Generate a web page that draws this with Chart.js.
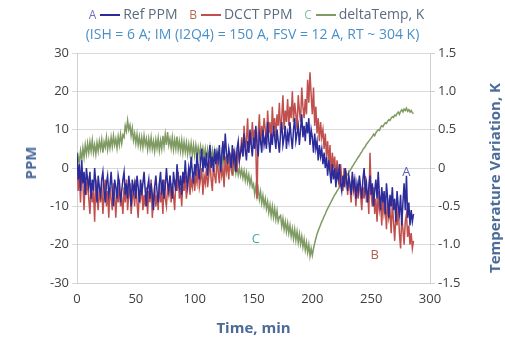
<!DOCTYPE html>
<html>
<head>
<meta charset="utf-8">
<script src="https://cdn.jsdelivr.net/npm/chart.js@4"></script>
<style>
  body { margin: 0; background: #fff; }
  #wrap { position: relative; width: 505px; height: 342px; font-family: "Open Sans", sans-serif; }
  #legend { position: absolute; left: 0; top: 4px; width: 505px; text-align: center; font-size: 14px; color: #5c6b80; white-space: nowrap; }
  #legend .sw { display: inline-block; width: 20px; height: 2px; vertical-align: middle; margin: 0 3px 0 4px; }
  #legend .k { font-size: 12px; margin-left: 8px; }
  #sub { position: absolute; left: 0; top: 24px; width: 505px; text-align: center; font-size: 14px; color: #4a90c8; white-space: nowrap; }
  .ytitle { position: absolute; font-size: 15px; font-weight: bold; color: #4a6a98; white-space: nowrap; transform: translate(-50%, -50%) rotate(-90deg); }
</style>
</head>
<body>
<div id="wrap">
  <canvas id="myChart" width="505" height="342"></canvas>
  <div id="legend">
    <span class="k" style="color:#6f6fc0">A</span><span class="sw" style="background:#2b2b9b"></span>Ref PPM
    <span class="k" style="color:#b46a55">B</span><span class="sw" style="background:#c0504d"></span>DCCT PPM
    <span class="k" style="color:#8cc0a0">C</span><span class="sw" style="background:#7f9a62"></span>deltaTemp, K
  </div>
  <div id="sub">(ISH = 6 A; IM (I2Q4) = 150 A, FSV = 12 A, RT ~ 304 K)</div>
  <div class="ytitle" style="left:30px; top:163px;">PPM</div>
  <div class="ytitle" style="left:494px; top:178px;">Temperature Variation, K</div>
</div>
<script>
// time in minutes
const times = [
  0,1,2,3,4,5,6,7,8,9, 10,11,12,13,14,15,16,17,18,19, 20,21,22,23,24,25,26,27,28,29,
  30,31,32,33,34,35,36,37,38,39, 40,41,42,43,44,45,46,47,48,49, 50,51,52,53,54,55,56,57,58,59,
  60,61,62,63,64,65,66,67,68,69, 70,71,72,73,74,75,76,77,78,79, 80,81,82,83,84,85,86,87,88,89,
  90,91,92,93,94,95,96,97,98,99, 100,101,102,103,104,105,106,107,108,109, 110,111,112,113,114,115,116,117,118,119,
  120,121,122,123,124,125,126,127,128,129, 130,131,132,133,134,135,136,137,138,139, 140,141,142,143,144,145,146,147,148,149,
  150,151,152,153,154,155,156,157,158,159, 160,161,162,163,164,165,166,167,168,169, 170,171,172,173,174,175,176,177,178,179,
  180,181,182,183,184,185,186,187,188,189, 190,191,192,193,194,195,196,197,198,199, 200,201,202,203,204,205,206,207,208,209,
  210,211,212,213,214,215,216,217,218,219, 220,221,222,223,224,225,226,227,228,229, 230,231,232,233,234,235,236,237,238,239,
  240,241,242,243,244,245,246,247,248,249, 250,251,252,253,254,255,256,257,258,259, 260,261,262,263,264,265,266,267,268,269,
  270,271,272,273,274,275,276,277,278,279, 280,281,282,283,284,285,286];

const refPPM = [
  4,-3,1,-6,2,-4,-1,-7,0,-3,
  -5,-1,-8,-3,-6,0,-4,-9,-2,-5,
  -7,-3,-1,-6,-9,-4,-2,-7,-5,-1,
  -6,-10,-3,-5,-8,-2,-4,-9,-6,-3,
  -1,-7,-4,-8,-2,-5,-10,-3,-6,-4,
  -8,-2,-5,-9,-3,-7,-4,-1,-6,-10,
  -5,-3,-8,-4,-7,-11,-5,-2,-6,-9,
  -4,-1,-7,-3,-8,-5,0,-4,-6,-2,
  -5,-8,-1,-4,-6,1,-3,-5,-2,-7,
  -1,-4,2,-3,-5,0,-2,3,-1,-4,
  1,-2,4,0,-3,2,5,-1,3,0,
  4,-2,2,6,0,3,-1,5,1,4,
  2,6,-1,3,7,2,9,4,1,5,
  3,0,6,2,4,-1,5,7,2,4,
  6,3,9,5,2,7,4,10,6,3,
  8,5,11,6,3,9,7,4,10,6,
  8,5,12,7,4,9,6,11,8,5,
  10,7,4,9,12,6,8,11,5,9,
  7,12,8,5,10,13,7,9,11,6,
  10,14,8,11,7,12,9,13,6,10,
  8,4,9,5,7,2,6,3,5,1,
  4,0,3,-2,2,-1,-4,1,-3,0,
  -5,-1,-3,1,-4,-6,-2,-5,0,-3,
  -6,-2,-4,-7,-1,-5,-3,-8,-4,-6,
  -2,-5,-8,-3,0,-6,-4,-9,-5,-2,
  -7,-4,-10,-6,-3,-8,-1,-7,-11,-5,
  -9,-6,-12,-4,-8,-13,-7,-10,-5,-11,
  -8,-14,-6,-10,-12,-7,-15,-9,-4,-11,
  -2,-13,-9,-15,-11,-14,-12];

const dcctPPM = [
  2,-6,-1,-9,0,-4,-11,-3,-7,-2,
  -8,-12,-4,-9,-6,-14,-3,-8,-11,-5,
  -9,-4,-12,-7,-3,-10,-6,-13,-5,-8,
  -11,-4,-7,-13,-6,-9,-3,-10,-8,-12,
  -5,-9,-3,-11,-7,-4,-12,-8,-6,-10,
  -3,-9,-13,-6,-8,-4,-11,-7,-10,-5,
  -12,-6,-9,-3,-13,-8,-5,-10,-7,-11,
  -4,-9,-6,-12,-3,-8,-10,-5,-7,-2,
  -9,-4,-7,-11,-3,-6,-1,-8,-5,-10,
  -3,-6,-2,-8,-4,0,-7,-3,-5,-1,
  -6,-2,-4,1,-5,-3,0,-7,-2,-4,
  0,-5,-2,2,-3,-6,1,-2,-4,3,
  -1,-4,2,-2,0,-5,3,-1,1,-3,
  4,0,-2,5,1,3,-1,6,2,4,
  8,3,11,5,7,13,4,9,6,12,
  7,10,5,-8,9,14,6,11,8,13,
  10,6,15,9,12,7,16,10,13,8,
  14,11,17,9,13,19,10,15,12,18,
  11,16,13,20,12,17,14,10,19,15,
  12,21,16,13,18,14,23,17,25,19,
  14,21,11,16,9,13,7,12,8,10,
  5,9,3,7,1,6,-2,4,0,3,
  -3,2,-1,-5,1,-3,-6,0,-4,-2,
  -7,-3,-5,-9,-2,-6,-4,-10,-5,-8,
  -3,-7,-11,-5,-8,-2,-9,-6,-12,4,
  -7,-10,-5,-12,-8,-14,-6,-11,-9,-15,
  -7,-12,-10,-16,-8,-13,-11,-17,-9,-14,
  -19,-12,-15,-10,-17,-21,-13,-16,-20,-14,
  -12,-18,-15,-20,-17,-21,-19];

const deltaTemp = [
  0.02,0.15,0.06,0.22,0.1,0.26,0.14,0.3,0.18,0.32,
  0.2,0.34,0.22,0.36,0.2,0.3,0.18,0.33,0.22,0.35,
  0.25,0.37,0.2,0.34,0.27,0.4,0.24,0.36,0.26,0.4,
  0.28,0.42,0.3,0.38,0.26,0.41,0.3,0.44,0.32,0.43,
  0.4,0.55,0.48,0.62,0.5,0.56,0.42,0.52,0.36,0.45,
  0.32,0.44,0.3,0.41,0.28,0.4,0.27,0.42,0.3,0.38,
  0.24,0.38,0.26,0.4,0.25,0.35,0.22,0.37,0.26,0.39,
  0.23,0.36,0.25,0.42,0.28,0.44,0.3,0.47,0.3,0.38,
  0.26,0.4,0.24,0.37,0.25,0.41,0.24,0.35,0.22,0.36,
  0.2,0.34,0.21,0.33,0.18,0.31,0.19,0.32,0.17,0.3,
  0.16,0.3,0.18,0.27,0.15,0.28,0.16,0.26,0.14,0.25,
  0.1,0.24,0.12,0.26,0.1,0.23,0.09,0.22,0.08,0.2,
  0.06,0.19,0.07,0.2,0.05,0.17,0.03,0.16,0.04,0.12,
  0.1,-0.01,0.08,-0.05,0.06,-0.07,0.03,-0.09,0,-0.1,
  -0.02,-0.13,-0.04,-0.16,-0.06,-0.18,-0.09,-0.22,-0.13,-0.25,
  -0.21,-0.34,-0.24,-0.37,-0.27,-0.41,-0.31,-0.46,-0.36,-0.49,
  -0.4,-0.53,-0.44,-0.58,-0.48,-0.62,-0.5,-0.64,-0.53,-0.67,
  -0.56,-0.7,-0.64,-0.62,-0.76,-0.66,-0.8,-0.7,-0.83,-0.72,
  -0.85,-0.75,-0.89,-0.79,-0.92,-0.8,-0.94,-0.83,-0.97,-0.86,
  -0.99,-0.89,-1.03,-0.93,-1.07,-0.97,-1.1,-1,-1.15,-1.05,
  -1.14,-1.05,-0.98,-0.92,-0.86,-0.82,-0.78,-0.74,-0.7,-0.67,
  -0.63,-0.6,-0.56,-0.53,-0.5,-0.47,-0.44,-0.41,-0.38,-0.35,
  -0.33,-0.3,-0.28,-0.25,-0.23,-0.21,-0.18,-0.16,-0.13,-0.11,
  -0.08,-0.06,-0.03,-0.01,0.02,0.04,0.07,0.09,0.12,0.14,
  0.16,0.19,0.21,0.24,0.26,0.28,0.31,0.33,0.35,0.37,
  0.39,0.41,0.44,0.42,0.46,0.48,0.5,0.49,0.53,0.55,
  0.54,0.57,0.59,0.58,0.61,0.63,0.62,0.65,0.67,0.66,
  0.69,0.68,0.71,0.73,0.7,0.74,0.76,0.73,0.77,0.75,
  0.78,0.74,0.76,0.73,0.75,0.72,0.71];

// letter markers placed on the chart (time, PPM)
const marks = [
  { text: "A", t: 280, v: -1, color: "#5a5ab8" },
  { text: "B", t: 253, v: -22.7, color: "#b0604f" },
  { text: "C", t: 152, v: -18.5, color: "#4fa8a8" },
];

const toXY = (vals) => vals.map((v, i) => ({ x: times[i], y: v }));

const markPlugin = {
  id: "marks",
  afterDatasetsDraw(chart) {
    const ctx = chart.ctx;
    const xs = chart.scales.x, ys = chart.scales.y;
    ctx.save();
    ctx.font = "13px 'Open Sans'";
    ctx.textAlign = "center";
    ctx.textBaseline = "middle";
    marks.forEach((m) => {
      ctx.fillStyle = m.color;
      ctx.fillText(m.text, xs.getPixelForValue(m.t), ys.getPixelForValue(m.v));
    });
    ctx.restore();
  },
};

const tickFont = { family: "Open Sans", size: 13 };
const titleFont = { family: "Open Sans", size: 15, weight: "bold" };

const ctx = document.getElementById("myChart").getContext("2d");
const myChart = new Chart(ctx, {
  type: "line",
  data: {
    datasets: [
      { label: "Ref PPM", data: toXY(refPPM), borderColor: "#2b2b9b", yAxisID: "y" },
      { label: "DCCT PPM", data: toXY(dcctPPM), borderColor: "#c0504d", yAxisID: "y" },
      { label: "deltaTemp, K", data: toXY(deltaTemp), borderColor: "#7f9a62", yAxisID: "y1" },
    ],
  },
  options: {
    responsive: false,
    animation: false,
    layout: { padding: { top: 53, left: 0, right: 0, bottom: 0 } },
    elements: {
      point: { radius: 0 },
      line: { borderWidth: 1.5, tension: 0 },
    },
    plugins: { legend: { display: false }, tooltip: { enabled: false } },
    scales: {
      x: {
        type: "linear",
        min: 0,
        max: 300,
        ticks: { stepSize: 50, color: "#404040", font: tickFont, maxRotation: 0 },
        grid: { display: false, tickLength: 5 },
        border: { color: "#d0d0d0" },
        title: { display: true, text: "Time, min", color: "#4a6a98", font: titleFont, padding: { top: 8 } },
        afterFit(scale) { scale.height = 59; },
      },
      y: {
        position: "left",
        min: -30,
        max: 30,
        ticks: { stepSize: 10, color: "#404040", font: tickFont },
        grid: { color: "#d9d9d9", tickLength: 5 },
        border: { color: "#d0d0d0" },
        afterFit(scale) { scale.width = 77; },
      },
      y1: {
        position: "right",
        min: -1.5,
        max: 1.5,
        ticks: { stepSize: 0.5, color: "#404040", font: tickFont },
        grid: { drawOnChartArea: false, tickLength: 5, color: "#d0d0d0" },
        border: { color: "#d0d0d0" },
        afterFit(scale) { scale.width = 75; },
      },
    },
  },
  plugins: [markPlugin],
});
</script>
</body>
</html>
